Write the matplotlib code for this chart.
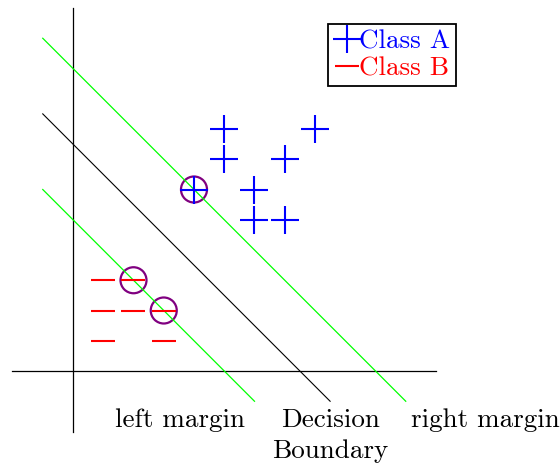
import numpy as np
import matplotlib
matplotlib.use("Agg")
import matplotlib.pyplot as plt

plt.rcParams['font.family'] = 'cmr10'
plt.rcParams['axes.formatter.use_mathtext'] = True

# Class A (+) and class B (-) samples
class_a_x = [5, 8, 5, 7, 6, 4, 6, 7]
class_a_y = [8, 8, 7, 7, 6, 6, 5, 5]
class_b_x = [1, 2, 1, 2, 3, 1, 3]
class_b_y = [3, 3, 2, 2, 2, 1, 1]

# support vectors
sv_x = [4, 2, 3]
sv_y = [6, 3, 2]

# lines x + y = c
boundary_c = 7.5
left_c = 5
right_c = 10

fig = plt.figure(figsize=(5.6, 4.66), dpi=100)
ax = fig.add_axes([0, 0, 1, 1])
ax.set_xlim(-73 / 30.25, 487 / 30.25)
ax.set_ylim(-95 / 30.25, 371 / 30.25)
ax.axis('off')

# coordinate axes
ax.plot([-2, 12], [0, 0], color='black', lw=0.9)
ax.plot([0, 0], [-2, 12], color='black', lw=0.9)

# margins and decision boundary
ax.plot([-1, right_c + 1], right_c - np.array([-1, right_c + 1]), color='#00ff00', lw=0.9)
ax.plot([-1, left_c + 1], left_c - np.array([-1, left_c + 1]), color='#00ff00', lw=0.9)
ax.plot([-1, boundary_c + 1], boundary_c - np.array([-1, boundary_c + 1]), color='black', lw=0.8)

ax.plot(class_a_x, class_a_y, ls='none', marker='+', ms=19.5, mew=1.5, color='blue', label='Class A')
ax.plot(class_b_x, class_b_y, ls='none', marker='_', ms=17, mew=1.5, color='red', label='Class B')

# support vector circles
for cx, cy in zip(sv_x, sv_y):
    ax.add_patch(plt.Circle((cx, cy), 0.43, fill=False, color='purple', lw=1.6))

fs = 19.5
ax.text(3.55, -1.62, 'left margin', ha='center', va='center', fontsize=fs)
ax.text(8.5, -1.62, 'Decision', ha='center', va='center', fontsize=fs)
ax.text(8.5, -2.65, 'Boundary', ha='center', va='center', fontsize=fs)
ax.text(13.62, -1.62, 'right margin', ha='center', va='center', fontsize=fs)

leg = ax.legend(loc='upper right', bbox_to_anchor=(456 / 560, 1 - 24 / 466),
                borderaxespad=0, fancybox=False, edgecolor='black', fontsize=fs,
                handlelength=0.95, handletextpad=0.0, borderpad=0.2,
                labelspacing=0.12, framealpha=1)
leg.get_frame().set_linewidth(1.3)
for txt, col in zip(leg.get_texts(), ['blue', 'red']):
    txt.set_color(col)

fig.savefig('out.png', dpi=100)
